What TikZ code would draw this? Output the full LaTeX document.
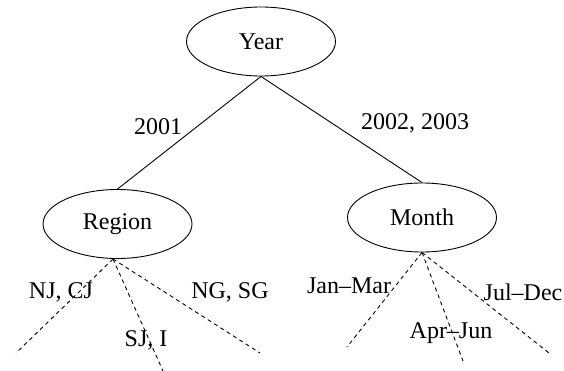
\documentclass[tikz,border=0pt]{standalone}
\usepackage{fontspec}
\setmainfont{Liberation Serif}
\usetikzlibrary{shapes.geometric}
\begin{document}
\begin{tikzpicture}[x=1pt,y=-1pt,
  every node/.style={font=\fontsize{24}{28}\selectfont},
  attr/.style={ellipse,draw,line width=0.9pt,inner sep=0pt,minimum width=149pt,minimum height=69pt},
  edge/.style={line width=0.9pt},
  branch/.style={line width=0.9pt,dash pattern=on 4pt off 3.5pt},
  lbl/.style={inner sep=0pt}]
\useasboundingbox (0,0) rectangle (564,371);

% attribute nodes
\node[attr] (year) at (261,41.5) {Year};
\node[attr] (region) at (117.5,224) {Region};
\node[attr] (month) at (422,217.5) {Month};

% first split
\draw[edge] (year.south) -- (region.north);
\draw[edge] (year.south) -- (month.north);
\node[lbl] (l2001) at (158,127) {2001};
\node[lbl] (l0203) at (415,123) {2002, 2003};

% branch ends below Region
\coordinate (rhub) at (113,259);
\coordinate (r1) at (16,353);
\coordinate (r2) at (163,371);
\coordinate (r3) at (260,353);
\draw[branch] (rhub) -- (r1);
\draw[branch] (rhub) -- (r2);
\draw[branch] (rhub) -- (r3);
\node[lbl] (lnj) at (61,292) {NJ, CJ};
\node[lbl] (lsj) at (146,340) {SJ, I};
\node[lbl] (lng) at (230,292) {NG, SG};

% branch ends below Month
\coordinate (m1) at (347,347);
\coordinate (m2) at (463,361);
\coordinate (m3) at (549,353);
\draw[branch] (month.south) -- (m1);
\draw[branch] (month.south) -- (m2);
\draw[branch] (month.south) -- (m3);
\node[lbl] (ljan) at (349,286) {Jan--Mar};
\node[lbl] (lapr) at (451,333) {Apr--Jun};
\node[lbl] (ljul) at (523,292) {Jul--Dec};
\end{tikzpicture}
\end{document}
